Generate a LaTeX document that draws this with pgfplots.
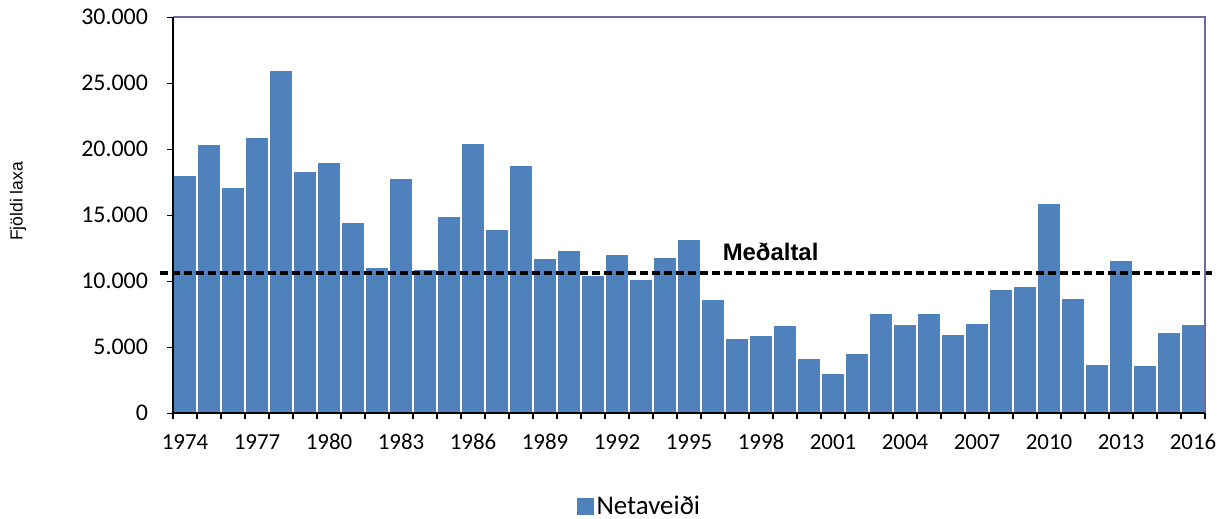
\documentclass[border=0pt]{standalone}
\usepackage{fontspec}
\setmainfont{Carlito}
\newfontfamily\arialfont{Liberation Sans}
\usepackage{pgfplots}
\pgfplotsset{compat=1.18}
\definecolor{barblue}{HTML}{4F81BD}
\definecolor{frameblue}{HTML}{6C6CA0}
\begin{document}
\begin{tikzpicture}
\useasboundingbox (-86.5bp,-52.85bp) rectangle (524.5bp,206.65bp);
\begin{axis}[
  at={(0,0)}, anchor=south west,
  scale only axis, width=516bp, height=198bp,
  ybar, bar width=1,
  xmin=-0.5, xmax=42.5, ymin=0, ymax=30000,
  axis on top,
  clip=false,
  axis x line*=bottom, axis y line*=left,
  axis line style={black, line width=1bp, -},
  xtick={0,3,...,42},
  xticklabels={1974,1977,1980,1983,1986,1989,1992,1995,1998,2001,2004,2007,2010,2013,2016},
  minor xtick={-0.5,0.5,...,42.5},
  major x tick style={draw=none},
  minor x tick style={black, line width=0.8bp},
  minor tick length=3bp,
  ytick={0,5000,...,30000},
  major y tick style={black, line width=0.8bp},
  major tick length=3bp,
  tick align=outside,
  scaled y ticks=false,
  /pgf/number format/1000 sep={.},
  /pgf/number format/assume math mode=true,
  xticklabel style={yshift=-4bp, font=\fontsize{11.5}{13}\selectfont},
  yticklabel style={xshift=-6bp, font=\fontsize{12}{13}\selectfont},
  ylabel={Fjöldi laxa},
  every axis y label/.style={at={(axis description cs:-0.1502,0.535)}, anchor=center, rotate=90, font=\arialfont\fontsize{8.8}{10}\selectfont},
  legend style={at={(axis description cs:0.4525,-0.235)}, anchor=center, draw=none, fill=none, font=\fontsize{13.5}{15}\selectfont, inner sep=0pt, nodes={inner sep=1.5bp}},
  legend image code/.code={\fill[barblue] (0cm,-3.75bp) rectangle (7.5bp,3.75bp);},
]
\addplot[fill=barblue, draw=white, line width=0.8bp] coordinates {
(0,18050) (1,20400) (2,17150) (3,20900) (4,26000) (5,18320) (6,19000) (7,14500)
(8,11100) (9,17790) (10,10920) (11,14930) (12,20460) (13,13950) (14,18800)
(15,11730) (16,12360) (17,10490) (18,12060) (19,10190) (20,11830) (21,13190)
(22,8680) (23,5720) (24,5930) (25,6660) (26,4190) (27,3030) (28,4560)
(29,7560) (30,6760) (31,7560) (32,5980) (33,6830) (34,9400) (35,9600)
(36,15910) (37,8720) (38,3730) (39,11600) (40,3660) (41,6180) (42,6760)
};
\addlegendentry{Netaveiði}
\addplot[sharp plot, black, line width=2bp, dash pattern=on 4bp off 2bp, forget plot, mark=none] coordinates {(-1.04,10650) (42.8,10650)};
\draw[frameblue, line width=1bp] (rel axis cs:0,1) -- (rel axis cs:1,1) -- (rel axis cs:1,0);
\node[font=\arialfont\bfseries\fontsize{12}{14}\selectfont] at (axis cs:24.4,12250) {Meðaltal};
\end{axis}
\end{tikzpicture}
\end{document}
